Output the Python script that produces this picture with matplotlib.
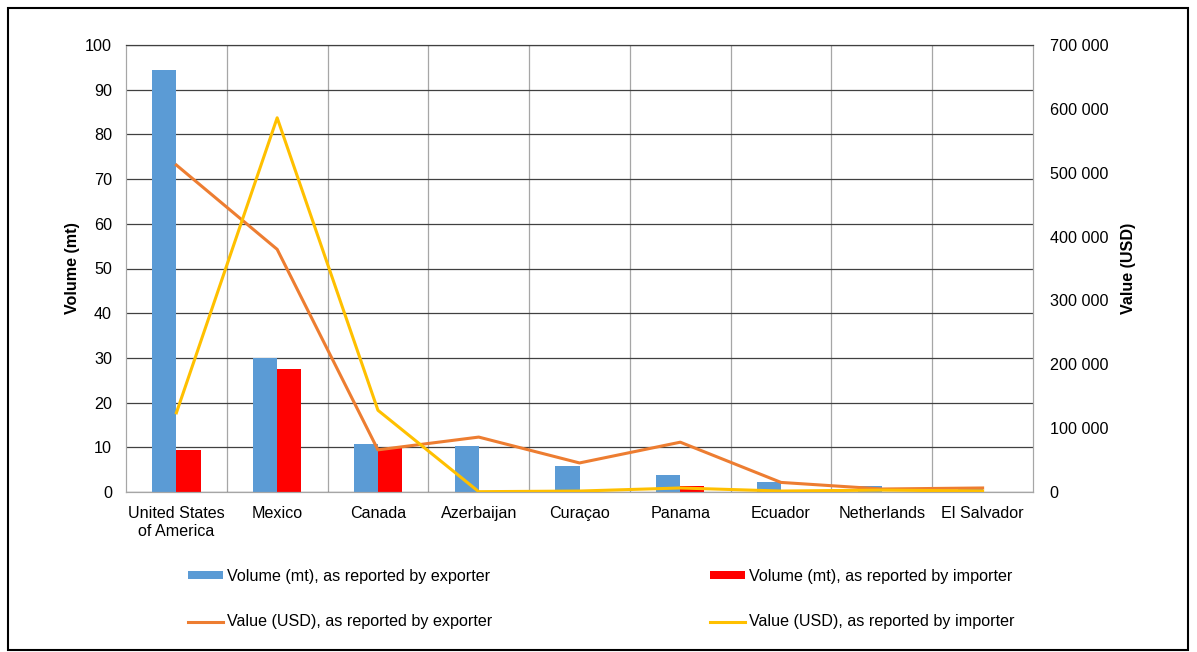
import matplotlib
matplotlib.use("Agg")
import matplotlib.pyplot as plt
import numpy as np
from matplotlib.ticker import FuncFormatter

plt.rcParams['font.family'] = ['Liberation Sans', 'DejaVu Sans']

categories = ["United States\nof America", "Mexico", "Canada", "Azerbaijan", "Curaçao",
              "Panama", "Ecuador", "Netherlands", "El Salvador"]
vol_exporter = [94.4, 30.0, 10.7, 10.3, 5.8, 3.7, 2.2, 1.3, 1.0]
vol_importer = [9.4, 27.5, 9.8, 0.0, 0.0, 1.3, 0.0, 0.0, 0.0]
val_exporter = [512000, 380000, 66000, 86000, 45500, 78000, 15000, 4700, 6300]
val_importer = [124000, 586000, 128000, 500, 1500, 6300, 1500, 3000, 1500]

FS = 11.6
fig = plt.figure(figsize=(11.97, 6.52), dpi=100)
ax = fig.add_axes([126/1197, 1-492/652, (1033-126)/1197, (492-45)/652])
ax2 = ax.twinx()

x = np.arange(len(categories))
w = 0.24
ax.bar(x - w/2, vol_exporter, w, color='#5B9BD5', zorder=2,
       label='Volume (mt), as reported by exporter')
ax.bar(x + w/2, vol_importer, w, color='#FF0000', zorder=2,
       label='Volume (mt), as reported by importer')
ax.set_xlim(-0.5, len(categories) - 0.5)
ax.set_ylim(0, 100)
ax.set_yticks(np.arange(0, 101, 10))
ax.set_xticks(x)
ax.set_xticklabels(categories, fontsize=FS, linespacing=1.25)
ax.tick_params(axis='both', length=0, labelsize=FS)
ax.tick_params(axis='y', pad=10)
ax.tick_params(axis='x', pad=10)
ax.set_ylabel('Volume (mt)', fontsize=FS, fontweight='bold', labelpad=4)
ax.yaxis.grid(True, color='#404040', lw=0.9, zorder=0)
for b in np.arange(0.5, len(categories) - 0.5, 1):
    ax.axvline(b, color='#A6A6A6', lw=0.9, zorder=0)
ax.set_axisbelow(True)

ax2.plot(x, val_exporter, color='#ED7D31', lw=2.2, zorder=3,
         label='Value (USD), as reported by exporter')
ax2.plot(x, val_importer, color='#FFC000', lw=2.2, zorder=3,
         label='Value (USD), as reported by importer')
ax2.set_ylim(0, 700000)
ax2.set_yticks(np.arange(0, 700001, 100000))
ax2.yaxis.set_major_formatter(FuncFormatter(lambda v, p: f"{int(v):,}".replace(",", " ")))
ax2.tick_params(axis='y', length=0, labelsize=FS, pad=12)
ax2.set_ylabel('Value (USD)', fontsize=FS, fontweight='bold', labelpad=9)

for a in (ax, ax2):
    for s in ('left', 'right', 'bottom'):
        a.spines[s].set_color('#A6A6A6')
    a.spines['top'].set_color('#404040')

h1, l1 = ax.get_legend_handles_labels()
h2, l2 = ax2.get_legend_handles_labels()
common = dict(frameon=False, fontsize=FS, handlelength=2.2, handleheight=0.35,
              handletextpad=0.25, labelspacing=1.9, borderpad=0, borderaxespad=0,
              loc='center left')
leg1 = fig.legend([h1[0], h2[0]], [l1[0], l2[0]],
                  bbox_to_anchor=(188/1197, 1-599/652), **common)
leg2 = fig.legend([h1[1], h2[1]], [l1[1], l2[1]],
                  bbox_to_anchor=(710/1197, 1-599/652), **common)

fig.patches.append(plt.Rectangle((8/1197, 1-650/652), 1180/1197, 642/652,
                                 transform=fig.transFigure, fill=False,
                                 edgecolor='black', lw=1.5))
fig.savefig('out.png', dpi=100)
